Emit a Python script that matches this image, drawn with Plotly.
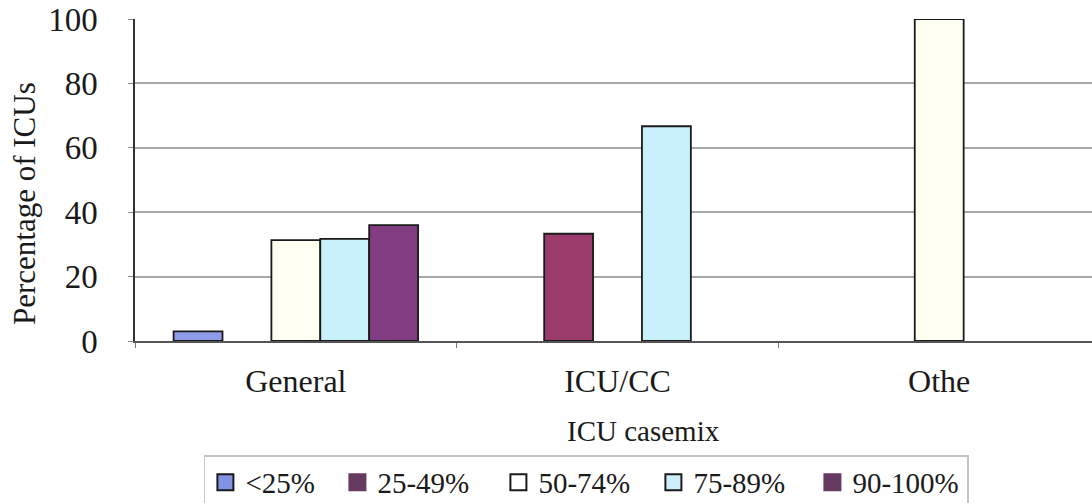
import plotly.graph_objects as go

categories = ["General", "ICU/CC", "Othe"]
series_names = ["<25%", "25-49%", "50-74%", "75-89%", "90-100%"]
lt25 = [3, None, None]
p25_49 = [None, 33.3, None]
p50_74 = [31.3, None, 100]
p75_89 = [31.7, 66.7, None]
p90_100 = [36, None, None]

series_values = [lt25, p25_49, p50_74, p75_89, p90_100]
bar_colors = ["#8d9be8", "#9b3b6c", "#fffff2", "#c8f1fb", "#823c82"]
key_colors = ["#8193e2", "#673b5f", "#ffffff", "#cdeffa", "#663a60"]
key_outline = ["#1a1a1a", "#673b5f", "#1a1a1a", "#1a1a1a", "#663a60"]
key_widths = [87, 116, 110, 114, 110]

serif = "Liberation Serif"
ink = "#1a1a1a"

fig = go.Figure()
for name, vals, col in zip(series_names, series_values, bar_colors):
    fig.add_trace(go.Bar(
        x=categories, y=vals, name=name, showlegend=False,
        marker=dict(color=col, line=dict(color=ink, width=1.8)),
    ))

# legend keys drawn as square markers
for name, col, oc, w in zip(series_names, key_colors, key_outline, key_widths):
    fig.add_trace(go.Scatter(
        x=[None], y=[None], mode="markers", name=name, legendwidth=w,
        marker=dict(symbol="square", size=17, color=col, line=dict(color=oc, width=2)),
    ))

fig.update_layout(
    width=1092, height=503,
    margin=dict(l=135, r=0, t=19, b=162, autoexpand=False),
    paper_bgcolor="white", plot_bgcolor="white",
    barmode="group", bargap=0.24, bargroupgap=0,
    font=dict(family=serif, color=ink),
    showlegend=True,
    legend=dict(
        orientation="h", x=0.072, xanchor="left", y=-0.355, yanchor="top",
        font=dict(family=serif, size=29, color=ink),
        bordercolor="#c4c4c4", borderwidth=1.5, bgcolor="white",
        traceorder="normal", itemsizing="trace",
    ),
    annotations=[
        dict(text="Percentage of ICUs", textangle=-90, xref="paper", yref="paper",
             x=(25 - 135) / 957, y=(341 - 204) / 322, xanchor="center", yanchor="middle",
             showarrow=False, font=dict(family=serif, size=31, color=ink)),
        dict(text="ICU casemix", xref="paper", yref="paper",
             x=(643 - 135) / 957, y=(341 - 431) / 322, xanchor="center", yanchor="middle",
             showarrow=False, font=dict(family=serif, size=29, color=ink)),
    ],
)
fig.update_xaxes(
    range=[-0.5, 2.475], automargin=False,
    showline=True, linecolor="#555", linewidth=1.5,
    ticks="outside", tickson="boundaries", ticklen=5, tickcolor="#777",
    tickfont=dict(family=serif, size=32, color=ink),
    ticklabelstandoff=11,
    showgrid=False,
)
fig.update_yaxes(
    range=[0, 100], dtick=20, automargin=False,
    showline=True, linecolor="#333", linewidth=1.5,
    ticks="outside", ticklen=5, tickcolor="#888",
    tickfont=dict(family=serif, size=33, color=ink),
    ticklabelstandoff=24,
    showgrid=True, gridcolor="#a8a8a8", gridwidth=1.5,
    zeroline=False,
)

fig.write_html("out.html")
